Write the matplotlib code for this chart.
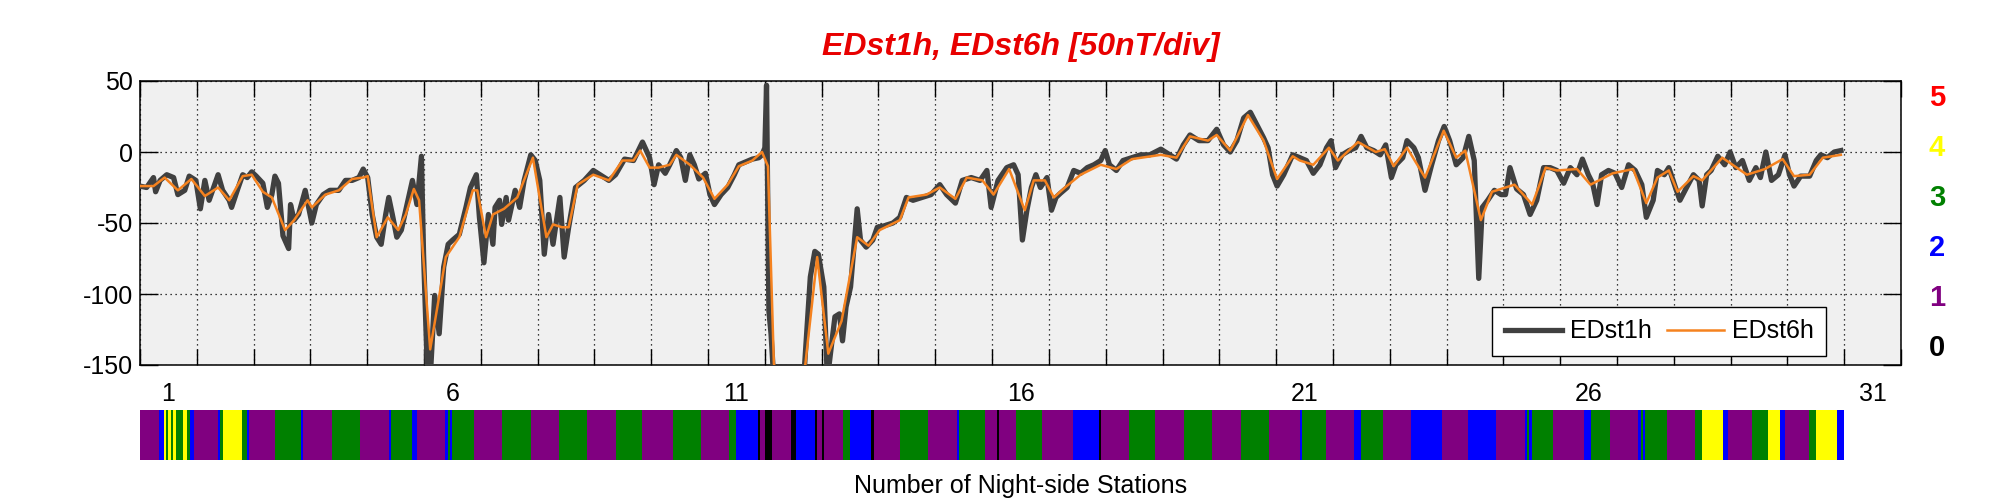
import numpy as np
import matplotlib
matplotlib.use("Agg")
import matplotlib.pyplot as plt
from matplotlib import font_manager
from matplotlib.colors import ListedColormap, BoundaryNorm

# ---------------- data ----------------
# EDst1h: (hour of month, nT)
edst1h_hours = [0, 2.8, 5.7, 6.6, 8.5, 11.3, 14.2, 16, 18.9, 20.8, 23.6, 25.5, 27.4, 29.2, 31.1, 33, 34.9, 37.7, 38.7,
    41.5, 43.4, 45.3, 47.2, 49.1, 51.9, 53.8, 55.7, 57, 58.5, 60.4, 62.8, 63.6, 65.1, 67, 69.8, 72.6, 74.5, 77.4, 80.2,
    84, 86.8, 89.6, 92.5, 94.3, 96.2, 98.1, 100, 101.9, 103.8, 105.1, 106.6, 108.5, 110.4, 113.2, 115.1, 117, 118.9,
    119.8, 121.7, 122.6, 124.5, 126.4, 128.3, 130.2, 132.1, 134.9, 137.7, 139.6, 142.1, 143.4, 145.3, 147.2, 149.1,
    150, 151.9, 152.8, 154.7, 155.7, 158.5, 160.4, 162.3, 165.1, 167, 168.9, 170.8, 172.6, 174.5, 177.4, 179.2, 181.1,
    184, 187.7, 191.5, 195.3, 198.1, 200.9, 204.7, 208.5, 212.3,
    215.3, 217.2, 219.1, 221.9, 223.8, 226.6, 228.5, 230.4, 232.3, 234.2, 236.1, 238.9, 240.8, 242.7, 245.5, 248.3,
    251.1, 253, 255.9, 258.7, 261.5, 262.8, 264, 264.7, 265.7, 266.6, 268.1, 274, 280.4, 283.2, 285.1, 286.6, 288.9,
    290.4, 291.7, 293.6, 295.5, 296.8, 298.3, 300.2, 302.1, 303, 304.4, 306.8, 309.6, 311.5, 314.4, 318.1, 321, 323.8,
    326.6, 330.4, 334.2, 337.9, 340.8, 344.5, 347.4, 351.2, 354.9, 357.8, 359.6, 362.5, 366.2, 369.1, 371, 372.8,
    374.7, 376.6, 378.5, 380.4, 383.2, 385.1, 387, 388.9, 391.7, 394.5, 397.4, 400.2, 403, 405.9, 407.8, 409.6, 412.5,
    415.3, 419.1, 422.8, 426.6, 431.3, 435.1, 437.9, 440.8, 443.6, 447.4, 451.2, 454.9, 457.8, 460.6, 463.4, 466.3,
    469.1, 471.9, 474.7, 476.6, 478.5, 480.4, 483.2, 487,
    490, 492.8, 495.7, 498.5, 501.3, 503.2, 505.1, 507.9, 510.8, 513.6, 515.9, 518.3, 521.2, 524, 526.3, 528.7, 530.6,
    533.5, 535.3, 538.2, 540.1, 542.9, 545.7, 548.6, 551, 553.3, 556.1, 559, 561.4, 563.7, 565.6, 567.1, 569.4, 572.2,
    575, 576.9, 578.8, 581.6, 584.5, 587.3, 590.1, 593, 595.8, 598.6, 601.5, 604.3, 607.1, 609.4, 611.9, 613.7, 615.6,
    617.5, 620.4, 623.2, 626, 628.9, 631.7, 634.5, 636.4, 639.3, 641.1, 644, 645.9, 648.7, 650.6, 653.4, 656.3, 658.7,
    660, 661.9, 663.8, 666.6, 669.5, 671.8, 674.2, 677, 679.9, 682.7, 684.6, 686.9, 689.3, 692.2, 695, 696.9, 698.8,
    701.6, 705.4, 708.2, 710.1, 712.9, 715.8, 718.6]
edst1h_values = [-24, -25, -18, -28, -20, -16, -18, -30, -27, -17, -20, -40, -20, -34, -25, -16, -27, -34, -39,
    -25, -16, -18, -14, -17, -22, -39, -30, -17, -22, -59, -68, -37, -48, -44, -27, -50, -37, -30, -27,
    -27, -20, -20, -18, -12, -18, -44, -60, -65, -44, -32, -44, -60, -55, -34, -20, -37, -3,
    -72, -170, -160, -101, -128, -81, -65, -62, -58, -39, -25, -16, -46, -78, -44, -65,
    -39, -34, -51, -32, -48, -27, -39, -20, -2, -6, -20, -72, -44, -65, -32, -74, -53,
    -25, -20, -13, -17, -20, -16, -5, -6, 7,
    -4, -23, -9, -15, -9, 1, -4, -20, -2, -9, -19, -15, -30, -37, -30, -25,
    -16, -9, -7, -5, -4, -2, 3, 47, -112, -128, -170, -175, -160, -88, -70, -72, -95,
    -160, -142, -116, -114, -133, -109, -95, -58, -40, -62, -67, -62, -53, -52, -50, -46, -32,
    -34, -32, -30, -23, -30, -36, -20, -18, -20, -13, -39, -20, -11, -9, -16, -62,
    -41, -25, -16, -25, -18, -41, -32, -29, -25, -13, -15, -11, -9, -6, 1, -9, -13,
    -6, -4, -2, -2, 2, -2, -5, 5, 12, 8, 8, 16, 5, 0, 8, 24,
    28, 19, 10, 3, -16, -24, -16, -2,
    -4, -6, -15, -9, 3, 8, -11, -2, 1, 3, 11, 3, 1, -2, 5, -18, -9,
    -4, 8, 3, -4, -27, -9, 8, 18, 8, -9, -4, 11, -6, -89, -39, -34, -27,
    -30, -30, -11, -26, -30, -44, -34, -11, -11, -13, -22, -11, -16, -5, -16, -22, -37,
    -16, -13, -15, -25, -9, -13, -23, -46, -34, -13, -16, -11, -25, -34, -25, -16, -20,
    -38, -16, -13, -3, -9, 0, -11, -6, -20, -11, -18, 0, -20, -16, -2, -16, -24,
    -17, -17, -6, -2, -4, 0, 1]

# EDst6h: (hour of month, nT)
edst6h_hours = [0, 5.7, 10.4, 16, 21.7, 27.4, 33, 37.7, 43.4, 47.2, 51.9, 55.7, 61.3, 65.1, 70.8, 72.6, 78.3, 84,
    89.6, 94.3, 96.2, 100, 104.7, 109.1, 112.3, 115.7, 117.9, 122.6, 129.2, 134.9, 140.6, 142.5, 146.2, 149.1,
    153.8, 159.4, 166, 171.7, 174.5, 178.3, 181.1, 184.9, 191.5, 198.1, 203.8, 208.5, 211.3,
    215.3, 219.1, 223.8, 226.6, 232.3, 237.9, 242.7, 248.3, 253, 258.7, 262.8, 265.3, 267.8, 272, 280.4, 286.1,
    290.8, 296.4, 303, 307.8, 312.5, 321, 324.7, 332.3, 337.9, 344.5, 349.3, 355.9, 360.6, 367.2, 373.8, 377.6,
    382.3, 386.1, 390.8, 397.4, 405.9, 412.5, 419.1, 431.3, 437.9, 443.6, 451.2, 454.9, 460.6, 468.1, 474.7,
    480.4, 487,
    490, 495.7, 502.3, 506.1, 514.6, 522.1, 525.9, 529.7, 535.3, 542.9, 550.8, 556.1, 559.9, 566.5, 571.2, 580.7,
    588.2, 593.9, 598.6, 607.1, 612.8, 622.2, 630.8, 636.4, 641.1, 645.9, 649.6, 656.3, 660, 668.5, 678.9, 686.5,
    694, 698.8, 705.4, 711, 718.6]
edst6h_values = [-24, -24, -18, -27, -19, -31, -25, -34, -17, -16, -28, -32, -55, -48, -34, -39, -30, -27,
    -19, -18, -17, -60, -46, -55, -44, -26, -34, -139, -74, -60, -27, -27, -60, -44,
    -40, -32, -4, -60, -51, -53, -53, -23, -16, -20, -6, -6, 1,
    -11, -11, -9, -2, -9, -18, -33, -23, -10, -6, 0, -10, -149, -175, -160, -74,
    -142, -119, -60, -66, -55, -48, -32, -30, -25, -33, -18, -20, -30, -12, -41, -20,
    -20, -32, -25, -16, -9, -12, -5, -2, -4, 11, 8, 12, 1, 26, 8,
    -19, -3,
    -6, -9, 3, -6, 7, 0, 2, -10, 3, -18, 15, -4, 1, -48, -28, -23,
    -37, -11, -13, -12, -23, -15, -12, -36, -18, -13, -28, -17, -20, -4, -16, -12,
    -5, -17, -16, -4, -2]

# Number of night-side stations (start hour of each run, value); month ends at hour 720
nss_start = [0, 8, 10, 11, 12, 13, 14, 15, 18, 20, 21, 23, 33, 34, 35, 43, 45, 46, 57, 68, 69, 81, 93, 105, 106,
    115, 117, 129, 130, 131, 132, 141, 153, 165, 177, 189, 201, 212, 225, 237, 249, 252, 261, 262, 264, 267, 275,
    277, 285, 286, 288, 289, 297, 300, 309, 310, 321, 333, 345, 346, 357, 362, 363, 370, 381, 394, 405, 406, 418,
    429, 441, 453, 465, 477, 490, 491, 501, 513, 516, 525, 537, 550, 561, 573, 585, 586, 587, 588, 597, 610, 613,
    621, 633, 634, 635, 636, 645, 657, 660, 669, 671, 681, 688, 693, 695, 705, 708, 717]
nss_value = [1, 2, 4, 3, 4, 3, 4, 3, 4, 3, 2, 1, 2, 3, 4, 3, 2, 1, 3, 2, 1, 3, 1, 2, 3,
    2, 1, 2, 3, 2, 3, 1, 3, 1, 3, 1, 3, 1, 3, 1, 3, 2, 0, 1, 0, 1, 0,
    2, 0, 1, 0, 1, 3, 2, 0, 1, 3, 1, 2, 3, 1, 0, 1, 3, 1, 2, 0, 1, 3,
    1, 3, 1, 3, 1, 2, 3, 1, 2, 3, 1, 2, 1, 2, 1, 2, 3, 2, 3, 1, 2, 3,
    1, 2, 3, 2, 3, 1, 3, 4, 2, 1, 3, 4, 2, 1, 3, 4, 2]
nss_end = 720

day_labels = ["1", "6", "11", "16", "21", "26", "31"]
y_ticks = [50, 0, -50, -100, -150]
level_labels = ["5", "4", "3", "2", "1", "0"]

# ---------------- style ----------------
avail = {f.name for f in font_manager.fontManager.ttflist}
narrow = "Liberation Sans Narrow" if "Liberation Sans Narrow" in avail else "Liberation Sans"
plt.rcParams["font.family"] = [narrow, "DejaVu Sans"]

W, H = 2001, 500
fig = plt.figure(figsize=(W / 100, H / 100), dpi=100)
fig.patch.set_facecolor("white")

def fx(px):
    return px / W

def fy(py):
    return 1 - py / H

ax_l, ax_r, ax_t, ax_b = 140, 1901, 81, 365
ax = fig.add_axes([fx(ax_l), fy(ax_b), fx(ax_r - ax_l), (ax_b - ax_t) / H])
ax.set_facecolor("#f0f0f0")

t1 = np.array(edst1h_hours) / 24.0
t6 = np.array(edst6h_hours) / 24.0
ax.plot(t1, edst1h_values, color="#404040", lw=3.8, label="EDst1h", solid_joinstyle="round", zorder=3)
ax.plot(t6, edst6h_values, color="#f5821f", lw=1.8, label="EDst6h", zorder=4)

ax.set_xlim(0, 31)
ax.set_ylim(-150, 50)
ax.set_xticks(np.arange(0, 32))
ax.set_xticklabels([])
ax.set_xticks([int(d) - 0.5 for d in day_labels], minor=True)
ax.set_xticklabels(day_labels, minor=True)
ax.set_yticks(y_ticks)
ax.set_yticklabels([str(v) for v in y_ticks])
ax.tick_params(axis="x", which="major", direction="in", length=11.5, width=1, top=True, bottom=True)
ax.tick_params(axis="x", which="minor", length=0, pad=12, labelsize=18)
ax.tick_params(axis="y", which="major", direction="in", length=13, width=1, left=True, right=True,
               labelsize=18, pad=5)
ax.grid(True, which="major", color="black", linestyle=(0, (1, 3)), lw=0.9)
for s in ax.spines.values():
    s.set_linewidth(1.1)

leg = ax.legend(loc="lower right", bbox_to_anchor=((1826 - ax_l) / (ax_r - ax_l), (ax_b - 356) / (ax_b - ax_t)),
                ncol=2, fontsize=18, frameon=True, fancybox=False, framealpha=1, edgecolor="black",
                handlelength=2.3, handletextpad=0.3, columnspacing=0.6, borderpad=0.5, borderaxespad=0)
leg.get_frame().set_linewidth(1.0)
leg.set_zorder(10)

# title
fig.text(fx((ax_l + ax_r) / 2), fy(47), "EDst1h, EDst6h [50nT/div]", color="#e80000", fontsize=23,
         fontweight="bold", fontstyle="italic", ha="center", va="center")

# right-side level labels
level_colors = ["#ff0000", "#ffff00", "#008000", "#0000ff", "#800080", "#000000"]
for i, (lab, c) in enumerate(zip(level_labels, level_colors)):
    fig.text(fx(1937), fy(98 + 50 * i), lab, color=c, fontsize=21, fontweight="bold", ha="center", va="center")

# station-count bar
cax = fig.add_axes([fx(ax_l), fy(460), fx(ax_r - ax_l), 50 / H])
edges = np.array(list(nss_start) + [nss_end]) / 24.0
cmap = ListedColormap(["#000000", "#800080", "#0000ff", "#008000", "#ffff00", "#ff0000"])
norm = BoundaryNorm(np.arange(-0.5, 6.5, 1), cmap.N)
cax.pcolormesh(edges, [0, 1], np.array([nss_value]), cmap=cmap, norm=norm, shading="flat")
cax.set_xlim(0, 31)
cax.set_ylim(0, 1)
cax.axis("off")

fig.text(fx((ax_l + ax_r) / 2), fy(486), "Number of Night-side Stations", fontsize=18, ha="center", va="center")

fig.savefig("out.png", dpi=100, facecolor="white")
